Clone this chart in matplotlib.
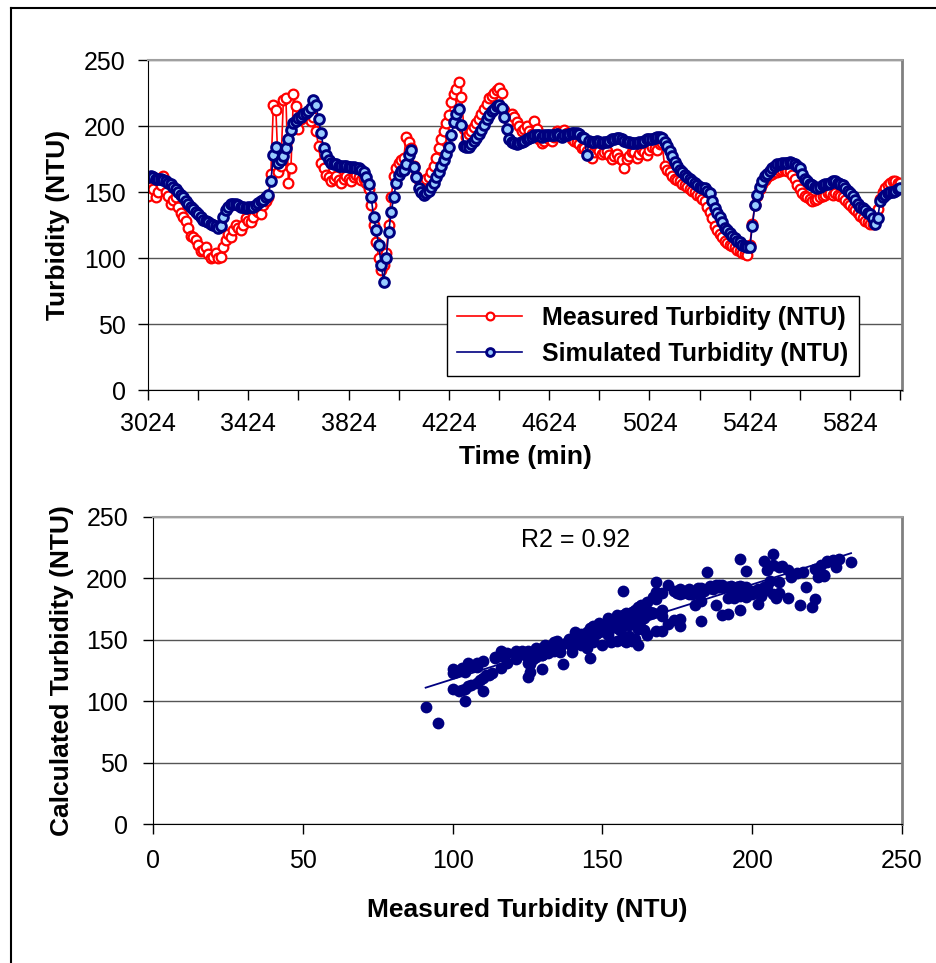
import numpy as np
import matplotlib.pyplot as plt
from matplotlib.lines import Line2D

plt.rcParams['font.family'] = ['Liberation Sans', 'DejaVu Sans']

# one reading every 10 min
time_min = np.arange(3024, 6025, 10)

measured = [147, 154, 152, 146, 150, 155, 162, 150, 147, 141,
            144, 146, 139, 134, 131, 128, 123, 117, 116, 114,
            110, 105, 106, 108, 103, 100, 101, 104, 100, 101,
            108, 114, 118, 116, 121, 125, 123, 121, 125, 130,
            128, 127, 131, 136, 135, 133, 140, 143, 146, 164,
            216, 212, 165, 170, 220, 221, 157, 168, 224, 215,
            198, 205, 209, 210, 207, 204, 207, 196, 185, 172,
            168, 163, 161, 158, 160, 162, 159, 157, 160, 162,
            160, 158, 161, 163, 161, 159, 160, 157, 152, 140,
            125, 112, 100, 91, 95, 104, 125, 146, 162, 168,
            172, 174, 176, 192, 188, 183, 170, 162, 159, 157,
            158, 160, 161, 165, 170, 176, 183, 190, 196, 202,
            208, 218, 224, 228, 233, 222, 198, 192, 194, 196,
            199, 202, 205, 209, 213, 217, 221, 223, 225, 227,
            229, 225, 212, 206, 204, 209, 207, 203, 200, 196,
            198, 200, 196, 194, 204, 198, 190, 187, 189, 192,
            190, 189, 192, 196, 195, 193, 197, 195, 193, 190,
            189, 188, 186, 183, 183, 181, 178, 176, 180, 183,
            181, 179, 180, 181, 178, 175, 177, 179, 176, 174,
            168, 175, 177, 180, 180, 176, 179, 182, 180, 178,
            182, 184, 183, 182, 186, 187, 170, 167, 165, 162,
            160, 159, 158, 156, 155, 154, 152, 151, 150, 148,
            147, 145, 143, 139, 135, 130, 124, 121, 118, 116,
            113, 111, 110, 109, 108, 106, 105, 104, 103, 102,
            110, 126, 140, 147, 152, 156, 159, 161, 163, 164,
            165, 165, 166, 167, 167, 166, 166, 163, 160, 155,
            152, 149, 147, 146, 145, 143, 144, 145, 146, 147,
            148, 149, 149, 148, 149, 148, 147, 146, 144, 142,
            140, 138, 136, 134, 132, 130, 128, 127, 126, 126,
            130, 137, 145, 150, 153, 155, 157, 158, 158, 157,
            157]

simulated = [161, 162, 161, 160, 160, 160, 159, 158, 157, 156,
             154, 152, 150, 148, 146, 143, 141, 139, 137, 135,
             133, 131, 129, 128, 127, 126, 125, 124, 123, 124,
             131, 136, 139, 141, 141, 141, 140, 139, 139, 138,
             139, 139, 139, 140, 142, 143, 144, 146, 148, 158,
             178, 184, 172, 174, 177, 183, 190, 197, 202, 204,
             206, 207, 209, 210, 211, 214, 220, 216, 205, 195,
             183, 178, 174, 172, 171, 171, 170, 170, 170, 170,
             169, 169, 169, 168, 168, 167, 165, 161, 156, 146,
             131, 121, 110, 95, 82, 100, 120, 135, 146, 157,
             163, 166, 167, 171, 178, 182, 169, 161, 153, 150,
             148, 149, 151, 154, 157, 161, 165, 170, 174, 179,
             184, 193, 203, 209, 213, 201, 185, 184, 184, 186,
             189, 191, 194, 197, 201, 205, 208, 211, 213, 215,
             216, 214, 207, 198, 190, 188, 187, 186, 187, 188,
             189, 190, 191, 192, 193, 193, 193, 192, 193, 193,
             193, 193, 193, 194, 193, 192, 193, 193, 194, 195,
             195, 195, 194, 192, 191, 178, 189, 188, 188, 189,
             188, 187, 188, 188, 189, 190, 190, 191, 191, 190,
             189, 188, 188, 187, 187, 187, 188, 188, 189, 190,
             190, 190, 191, 192, 192, 191, 188, 185, 181, 177,
             173, 170, 167, 165, 163, 161, 160, 158, 157, 155,
             154, 153, 153, 151, 149, 143, 138, 134, 131, 127,
             123, 121, 119, 117, 115, 113, 112, 110, 109, 108,
             108, 124, 140, 148, 154, 158, 162, 164, 166, 168,
             170, 171, 171, 172, 172, 172, 173, 172, 171, 170,
             168, 164, 160, 158, 156, 155, 154, 153, 154, 155,
             156, 156, 157, 158, 158, 157, 156, 155, 153, 151,
             149, 147, 144, 141, 139, 138, 136, 134, 133, 130,
             126, 130, 143, 146, 148, 149, 150, 150, 151, 152,
             153]

time_ticks = [3024, 3424, 3824, 4224, 4624, 5024, 5424, 5824]
time_minor = [3224, 3624, 4024, 4424, 4824, 5224, 5624, 6024]
turb_ticks = [0, 50, 100, 150, 200, 250]
r2_label = "R2 = 0.92"

navy = '#000080'
grid_col = '#555555'
fs = 18
lab_fs = 19

fig = plt.figure(figsize=(9.36, 9.63), dpi=100)

# ---- top: time series ----
ax1 = fig.add_axes([148 / 936, 1 - 390 / 963, 754 / 936, 330 / 963])
ax1.plot(time_min, measured, color='red', lw=1.2, marker='o', ms=7,
         mfc='white', mec='red', mew=1.6, label='Measured Turbidity (NTU)')
ax1.plot(time_min, simulated, color=navy, lw=1.2, marker='o', ms=7,
         mfc='#99CCFF', mec=navy, mew=2.1, label='Simulated Turbidity (NTU)')
ax1.set_xlim(3024, 6031)
ax1.set_ylim(0, 250)
ax1.set_yticks(turb_ticks)
ax1.set_xticks(time_ticks)
ax1.set_xticks(time_minor, minor=True)
ax1.set_xticklabels([str(t) for t in time_ticks])
ax1.tick_params(axis='both', which='both', direction='out', length=7,
                width=1, labelsize=fs, pad=9)
ax1.set_xlabel('Time (min)', fontsize=lab_fs, fontweight='bold', labelpad=6)
ax1.set_ylabel('Turbidity (NTU)', fontsize=lab_fs, fontweight='bold', labelpad=10)
leg = ax1.legend(loc='lower left', bbox_to_anchor=(0.397, 0.042),
                 borderaxespad=0, fancybox=False, edgecolor='black',
                 framealpha=1, prop={'size': fs, 'weight': 'bold'},
                 handlelength=2.6, borderpad=0.4, labelspacing=0.5,
                 markerscale=0.8)
leg.get_frame().set_linewidth(1)

# ---- bottom: scatter ----
ax2 = fig.add_axes([153 / 936, 1 - 824 / 963, 749 / 936, 307 / 963])
ax2.plot(measured, simulated, 'o', color=navy, ms=8.5, mew=0)
slope, icpt = np.polyfit(measured, simulated, 1)
xs = np.array([min(measured), max(measured)])
ax2.plot(xs, slope * xs + icpt, color=navy, lw=1.3)
ax2.text(141, 231, r2_label, fontsize=fs, ha='center', va='center')
ax2.set_xlim(0, 250)
ax2.set_ylim(0, 250)
ax2.set_xticks(turb_ticks)
ax2.set_yticks(turb_ticks)
ax2.tick_params(axis='both', direction='out', length=7, width=1,
                labelsize=fs, pad=11)
ax2.set_xlabel('Measured Turbidity (NTU)', fontsize=lab_fs, fontweight='bold',
               labelpad=18)
ax2.set_ylabel('Calculated Turbidity (NTU)', fontsize=lab_fs, fontweight='bold',
               labelpad=9)

for ax in (ax1, ax2):
    ax.set_axisbelow(True)
    ax.yaxis.grid(True, color=grid_col, lw=1)
    ax.spines['left'].set_color('black')
    ax.spines['bottom'].set_color('black')
    ax.spines['top'].set_color('#A0A0A0')
    ax.spines['right'].set_color('#808080')
    ax.spines['right'].set_linewidth(2)
    ax.spines['top'].set_linewidth(1.5)

# outer border (left and top edges)
fig.add_artist(Line2D([11 / 936, 11 / 936], [0, 1 - 8 / 963],
                      color='black', lw=1.5, transform=fig.transFigure))
fig.add_artist(Line2D([11 / 936, 1], [1 - 8 / 963, 1 - 8 / 963],
                      color='black', lw=1.5, transform=fig.transFigure))

fig.savefig('out.png', dpi=100)
